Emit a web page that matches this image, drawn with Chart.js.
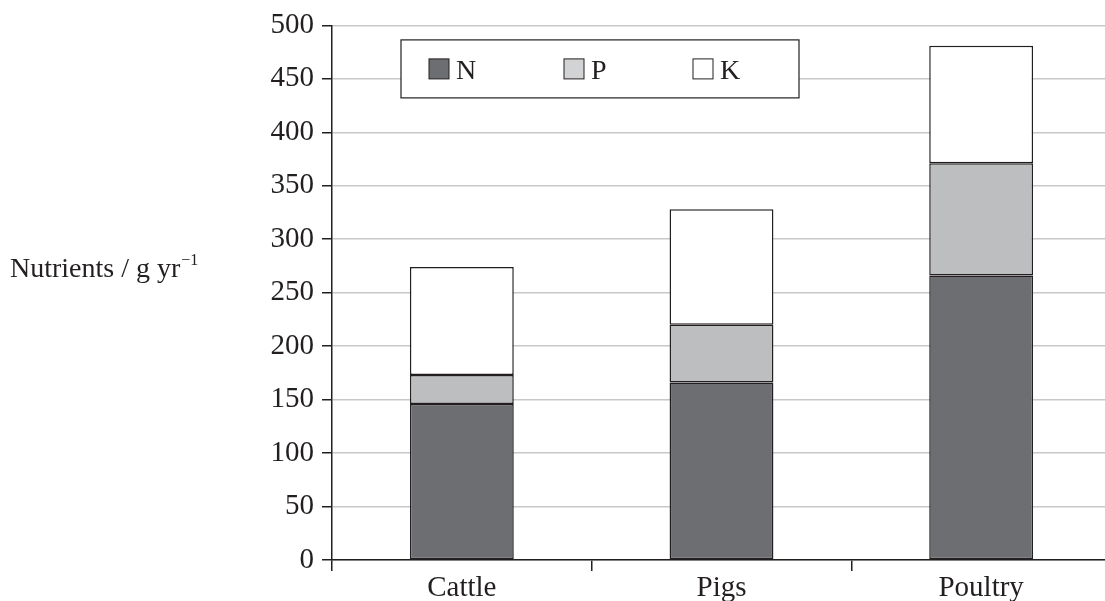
<!DOCTYPE html>
<html>
<head>
<meta charset="utf-8">
<script src="https://cdn.jsdelivr.net/npm/chart.js@4/dist/chart.umd.min.js"></script>
<style>
  html, body { margin: 0; padding: 0; background: #fff; overflow: hidden; }
  #wrap { width: 1111px; height: 601px; }
</style>
</head>
<body>
<div id="wrap"><canvas id="chart" width="1111" height="601"></canvas></div>
<script>
const categories = ['Cattle', 'Pigs', 'Poultry']
const nValues = [146, 166, 266]
const pValues = [27, 54, 105]
const kValues = [101, 108, 110]
const yTicks = [0, 50, 100, 150, 200, 250, 300, 350, 400, 450, 500]

const INK = '#231f20'
const FONT = '"Liberation Serif", "Times New Roman", serif'

const series = [
  { label: 'N', data: nValues, fill: '#6d6e71', swatch: '#6d6e71' },
  { label: 'P', data: pValues, fill: '#bcbec0', swatch: '#d1d3d4' },
  { label: 'K', data: kValues, fill: '#ffffff', swatch: '#ffffff' },
]

// horizontal y title with superscript, plus the boxed legend
const extras = {
  id: 'extras',
  afterDraw(chart) {
    const { ctx, chartArea } = chart
    ctx.save()
    ctx.fillStyle = INK
    ctx.textBaseline = 'alphabetic'
    ctx.textAlign = 'left'
    ctx.font = `28px ${FONT}`
    const base = 'Nutrients / g yr'
    const tx = 10, ty = 277
    ctx.fillText(base, tx, ty)
    const w = ctx.measureText(base).width
    ctx.font = `16px ${FONT}`
    ctx.fillText('\u2212' + '1', tx + w + 1, ty - 12)

    // legend box
    const bx = chartArea.left + 69, by = chartArea.top + 14.5
    const bw = 398, bh = 58
    ctx.fillStyle = '#fff'
    ctx.fillRect(bx, by, bw, bh)
    ctx.strokeStyle = INK
    ctx.lineWidth = 1.2
    ctx.strokeRect(bx, by, bw, bh)
    const offs = [28, 163, 292]
    ctx.font = `28px ${FONT}`
    series.forEach((s, i) => {
      const sx = bx + offs[i], sy = by + 19
      ctx.fillStyle = s.swatch
      ctx.fillRect(sx, sy, 20, 20)
      ctx.strokeStyle = INK
      ctx.lineWidth = 1
      ctx.strokeRect(sx, sy, 20, 20)
      ctx.fillStyle = INK
      ctx.fillText(s.label, sx + 27, sy + 20)
    })
    ctx.restore()
  },
}

new Chart(document.getElementById('chart'), {
  type: 'bar',
  data: {
    labels: categories,
    datasets: series.map((s) => ({
      label: s.label,
      data: s.data,
      backgroundColor: s.fill,
      borderColor: INK,
      borderWidth: 1.5,
      borderSkipped: false,
      categoryPercentage: 0.4,
      barPercentage: 1,
    })),
  },
  options: {
    responsive: false,
    animation: false,
    layout: { padding: { top: 24, right: 0, left: 0, bottom: 0 } },
    plugins: { legend: { display: false }, tooltip: { enabled: false } },
    scales: {
      x: {
        stacked: true,
        afterFit: (s) => { s.height = 41 },
        grid: {
          offset: true,
          drawOnChartArea: false,
          tickLength: 11,
          tickColor: INK,
          lineWidth: 1.5,
        },
        border: { color: INK, width: 1.5 },
        ticks: { color: INK, font: { family: FONT, size: 29 }, padding: 0 },
      },
      y: {
        stacked: true,
        min: 0,
        max: 500,
        afterFit: (s) => { s.width = 332 },
        afterBuildTicks: (s) => { s.ticks = yTicks.map((v) => ({ value: v })) },
        grid: {
          color: '#c8c8c8',
          lineWidth: 1.5,
          tickLength: 10,
          tickColor: INK,
        },
        border: { color: INK, width: 1.5 },
        ticks: { color: INK, font: { family: FONT, size: 29 }, padding: 8 },
      },
    },
  },
  plugins: [extras],
})
</script>
</body>
</html>
